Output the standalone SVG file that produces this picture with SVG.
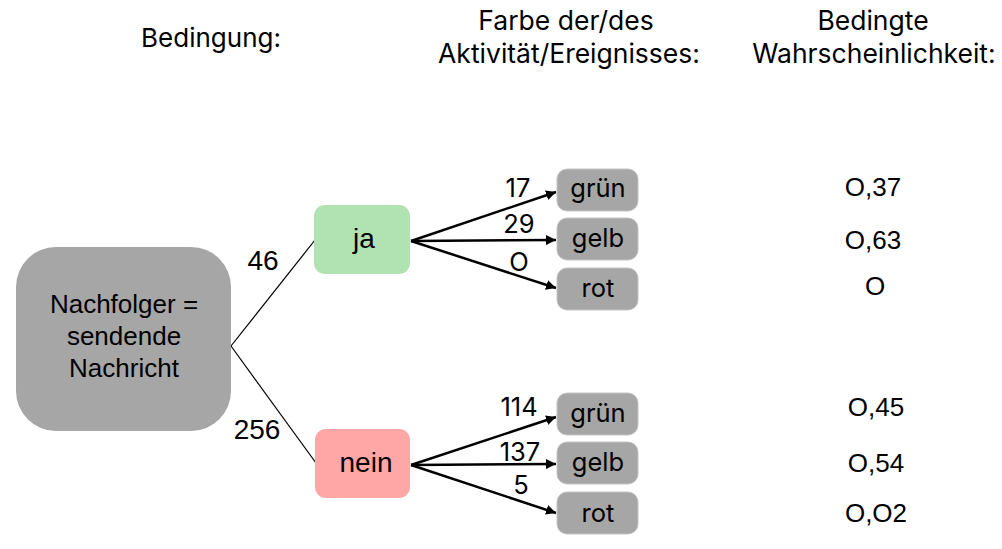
<svg xmlns="http://www.w3.org/2000/svg" width="1002" height="549" viewBox="0 0 1002 549">
<style>
.hd{font-family:Inter,"Liberation Sans",sans-serif;font-size:26.5px;fill:#000;text-anchor:middle}
.ar{font-family:"Liberation Sans",Arial,sans-serif;fill:#000;text-anchor:middle}
.gm{font-family:Inter,"Liberation Sans",sans-serif;font-size:25.5px;fill:#000;text-anchor:middle}
.leaf{fill:#a6a6a6;stroke:#c4c4c4;stroke-width:1}
.arrow{stroke:#000;stroke-width:2.5;fill:none;marker-end:url(#ah)}
.thin{stroke:#000;stroke-width:1.2;fill:none}
</style>
<defs>
<marker id="ah" viewBox="0 0 10 10" refX="10" refY="5" markerWidth="4" markerHeight="4" orient="auto" markerUnits="strokeWidth">
<path d="M0,0 L10,5 L0,10 z" fill="#000"/>
</marker>
</defs>
<rect width="1002" height="549" fill="#fff"/>

<g id="headers">
<text class="hd" x="211" y="47" style="font-size:26px">Bedingung:</text>
<text class="hd" x="566" y="30">Farbe der/des</text>
<text class="hd" x="569" y="63">Aktivität/Ereignisses:</text>
<text class="hd" x="873" y="30">Bedingte</text>
<text class="hd" x="874" y="63">Wahrscheinlichkeit:</text>
</g>

<g id="connectors">
<line class="thin" x1="231" y1="346" x2="315" y2="240"/>
<line class="thin" x1="231" y1="346" x2="316" y2="463"/>
<line class="arrow" x1="411" y1="241" x2="556" y2="192"/>
<line class="arrow" x1="411" y1="241" x2="556" y2="240"/>
<line class="arrow" x1="411" y1="241" x2="556" y2="288"/>
<line class="arrow" x1="411" y1="465" x2="556" y2="417"/>
<line class="arrow" x1="411" y1="465" x2="556" y2="464"/>
<line class="arrow" x1="411" y1="465" x2="556" y2="513"/>
<text class="ar" x="263" y="270" font-size="28">46</text>
<text class="ar" x="257" y="439" font-size="28">256</text>
<text class="gm" x="518" y="197">17</text>
<text class="gm" x="519" y="233">29</text>
<text class="gm" x="519" y="271">O</text>
<text class="gm" x="519" y="416">114</text>
<text class="gm" x="520" y="461">137</text>
<text class="gm" x="521" y="494">5</text>
</g>

<g id="root">
<rect x="16" y="247" width="215" height="184" rx="40" fill="#a6a6a6"/>
<text class="ar" x="124" y="313" font-size="26">Nachfolger =</text>
<text class="ar" x="124" y="345" font-size="26">sendende</text>
<text class="ar" x="124" y="377" font-size="26">Nachricht</text>
</g>

<g id="ja">
<rect x="314" y="205" width="96" height="69" rx="11" fill="#b1e2b1"/>
<text class="ar" x="364" y="248" font-size="28">ja</text>
</g>
<g id="nein">
<rect x="315" y="429" width="95" height="69" rx="11" fill="#ffa6a6"/>
<text class="ar" x="366" y="472" font-size="28">nein</text>
</g>

<g id="ja-gruen"><rect class="leaf" x="557" y="169" width="81" height="42" rx="10"/><text class="gm" x="598" y="197">grün</text></g>
<g id="ja-gelb"><rect class="leaf" x="557" y="218" width="81" height="42" rx="10"/><text class="gm" x="598" y="247">gelb</text></g>
<g id="ja-rot"><rect class="leaf" x="557" y="268" width="81" height="42" rx="10"/><text class="gm" x="598" y="297">rot</text></g>
<g id="nein-gruen"><rect class="leaf" x="557" y="393" width="81" height="42" rx="10"/><text class="gm" x="598" y="422">grün</text></g>
<g id="nein-gelb"><rect class="leaf" x="557" y="442" width="81" height="42" rx="10"/><text class="gm" x="598" y="471">gelb</text></g>
<g id="nein-rot"><rect class="leaf" x="557" y="492" width="81" height="42" rx="10"/><text class="gm" x="598" y="522">rot</text></g>

<g id="probabilities">
<text class="ar" x="873" y="196" font-size="26">O,37</text>
<text class="ar" x="873" y="249" font-size="26">O,63</text>
<text class="ar" x="875" y="295" font-size="26">O</text>
<text class="ar" x="876" y="416" font-size="26">O,45</text>
<text class="ar" x="876" y="472" font-size="26">O,54</text>
<text class="ar" x="876" y="522" font-size="26">O,O2</text>
</g>
</svg>
